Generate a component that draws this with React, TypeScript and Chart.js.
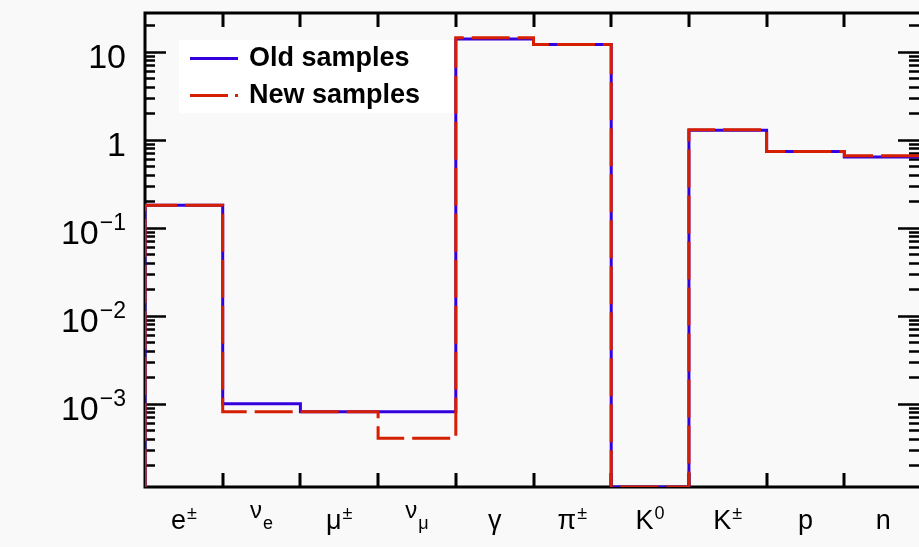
import { useEffect, useRef } from "react";
import { Chart, registerables } from "chart.js";

Chart.register(...registerables);

// Particle species (one histogram bin each)
const categories = ["e±", "νe", "μ±", "νμ", "γ", "π±", "K0", "K±", "p", "n"];
const labelBase = ["e", "ν", "μ", "ν", "γ", "π", "K", "K", "p", "n"];
const labelSup = ["±", "", "±", "", "", "±", "0", "±", "", ""];
const labelSub = ["", "e", "", "μ", "", "", "", "", "", ""];

// Bin contents (0 = empty bin)
const oldSamples = [0.18, 1.0e-3, 8.1e-4, 8.1e-4, 13.9, 12.1, 0, 1.28, 0.736, 0.636];
const newSamples = [0.18, 8.1e-4, 8.1e-4, 4.05e-4, 14.4, 12.1, 0, 1.3, 0.736, 0.658];

// Y axis decades and their labels (mantissa, exponent)
const yTickValues = [1e-3, 1e-2, 1e-1, 1, 10];
const yTickBase = ["10", "10", "10", "1", "10"];
const yTickExp = ["−3", "−2", "−1", "", ""];

const Y_MIN = 1.13e-4;
const Y_MAX = 27.5;
const X_MAX = 9.961;

const BLUE = "rgb(52, 0, 222)";
const RED = "rgb(214, 30, 0)";
const BG = "rgb(249, 249, 249)";
const FONT = '"Liberation Sans", Arial, Helvetica, sans-serif';

function stepPoints(values: number[]) {
  const pts: { x: number; y: number }[] = [{ x: 0, y: Y_MIN }];
  values.forEach((v, i) => pts.push({ x: i, y: v > 0 ? v : Y_MIN }));
  pts.push({ x: values.length, y: values[values.length - 1] || Y_MIN });
  return pts;
}

const framePlugin = {
  id: "frame",
  beforeDraw(chart: any) {
    const ctx = chart.ctx;
    ctx.save();
    ctx.fillStyle = BG;
    ctx.fillRect(0, 0, chart.width, chart.height);
    ctx.restore();
  },
  beforeDatasetsDraw(chart: any) {
    const ctx = chart.ctx as CanvasRenderingContext2D;
    const { left, right, top, bottom } = chart.chartArea;
    const xs = chart.scales.x;
    const ys = chart.scales.y;
    ctx.save();
    ctx.strokeStyle = "#000";
    ctx.lineWidth = 3;
    ctx.lineCap = "butt";

    // frame: left, bottom, top
    ctx.beginPath();
    ctx.moveTo(right + 2, top);
    ctx.lineTo(left, top);
    ctx.lineTo(left, bottom);
    ctx.lineTo(right + 2, bottom);
    ctx.stroke();

    // x ticks at bin edges, bottom and top
    ctx.beginPath();
    for (let i = 1; i <= categories.length; i++) {
      const px = Math.round(xs.getPixelForValue(i));
      if (px > right + 2) continue;
      ctx.moveTo(px, bottom);
      ctx.lineTo(px, bottom - 14);
      ctx.moveTo(px, top);
      ctx.lineTo(px, top + 14);
    }
    ctx.stroke();

    // y ticks, major and minor, left and right
    ctx.lineWidth = 2.5;
    ctx.beginPath();
    for (let e = -4; e <= 1; e++) {
      for (let m = 1; m <= 9; m++) {
        const v = m * Math.pow(10, e);
        if (v < Y_MIN || v > Y_MAX) continue;
        const py = Math.round(ys.getPixelForValue(v)) + 0.5;
        const len = m === 1 ? 21 : 10;
        ctx.moveTo(left, py);
        ctx.lineTo(left + len, py);
        ctx.moveTo(right, py);
        ctx.lineTo(right - len, py);
      }
    }
    ctx.stroke();

    // y labels
    ctx.fillStyle = "#000";
    ctx.textBaseline = "alphabetic";
    yTickValues.forEach((v, i) => {
      const py = ys.getPixelForValue(v);
      const base = yTickBase[i];
      const exp = yTickExp[i];
      ctx.font = `34px ${FONT}`;
      const wb = ctx.measureText(base).width;
      ctx.font = `23px ${FONT}`;
      const we = exp ? ctx.measureText(exp).width + 1 : 0;
      const xr = 126;
      ctx.font = `34px ${FONT}`;
      ctx.textAlign = "left";
      ctx.fillText(base, xr - we - wb, py + 16);
      if (exp) {
        ctx.font = `23px ${FONT}`;
        ctx.fillText(exp, xr - we + 1, py + 2);
      }
    });

    // x labels, centred in each bin
    categories.forEach((_, i) => {
      const cx = xs.getPixelForValue(i + 0.5);
      const base = labelBase[i];
      const sup = labelSup[i];
      const sub = labelSub[i];
      const baseFont = sub ? `24px ${FONT}` : `27px ${FONT}`;
      ctx.font = baseFont;
      const wb = ctx.measureText(base).width;
      ctx.font = `18px ${FONT}`;
      const ws = sup ? ctx.measureText(sup).width : 0;
      const wu = sub ? ctx.measureText(sub).width : 0;
      const total = wb + Math.max(ws, wu) + (sup || sub ? 1 : 0);
      const x0 = cx - total / 2;
      ctx.textAlign = "left";
      ctx.font = baseFont;
      ctx.fillText(base, x0, sub ? 518 : 529);
      ctx.font = `18px ${FONT}`;
      if (sup) ctx.fillText(sup, x0 + wb + 1, 519);
      if (sub) ctx.fillText(sub, x0 + wb + 1, 529);
    });

    // legend box
    ctx.fillStyle = "#fff";
    ctx.fillRect(179, 40, 276, 73);
    ctx.lineWidth = 3;
    ctx.strokeStyle = BLUE;
    ctx.beginPath();
    ctx.moveTo(190, 58.5);
    ctx.lineTo(238, 58.5);
    ctx.stroke();
    ctx.strokeStyle = RED;
    ctx.beginPath();
    ctx.moveTo(190, 95.5);
    ctx.lineTo(228, 95.5);
    ctx.moveTo(235, 95.5);
    ctx.lineTo(238, 95.5);
    ctx.stroke();
    ctx.fillStyle = "#000";
    ctx.font = `bold 27px ${FONT}`;
    ctx.textAlign = "left";
    ctx.fillText("Old samples", 249, 66);
    ctx.fillText("New samples", 249, 103);

    ctx.restore();
  },
};

export default function App() {
  const ref = useRef<HTMLCanvasElement | null>(null);

  useEffect(() => {
    document.body.style.margin = "0";
    document.body.style.background = BG;
    const canvas = ref.current;
    if (!canvas) return;
    const chart = new Chart(canvas, {
      type: "line",
      data: {
        datasets: [
          {
            label: "New samples",
            data: stepPoints(newSamples),
            stepped: "before",
            borderColor: RED,
            borderWidth: 3,
            borderDash: [38, 8],
            pointRadius: 0,
            fill: false,
          },
          {
            label: "Old samples",
            data: stepPoints(oldSamples),
            stepped: "before",
            borderColor: BLUE,
            borderWidth: 3,
            pointRadius: 0,
            fill: false,
          },
        ],
      },
      options: {
        animation: false,
        responsive: false,
        devicePixelRatio: 1,
        layout: { padding: { left: 145, top: 13, right: 0, bottom: 60 } },
        scales: {
          x: { type: "linear", min: 0, max: X_MAX, display: false },
          y: { type: "logarithmic", min: Y_MIN, max: Y_MAX, display: false },
        },
        plugins: { legend: { display: false }, tooltip: { enabled: false } },
      },
      plugins: [framePlugin],
    });
    return () => chart.destroy();
  }, []);

  return <canvas ref={ref} width={919} height={547} style={{ display: "block" }} />;
}
